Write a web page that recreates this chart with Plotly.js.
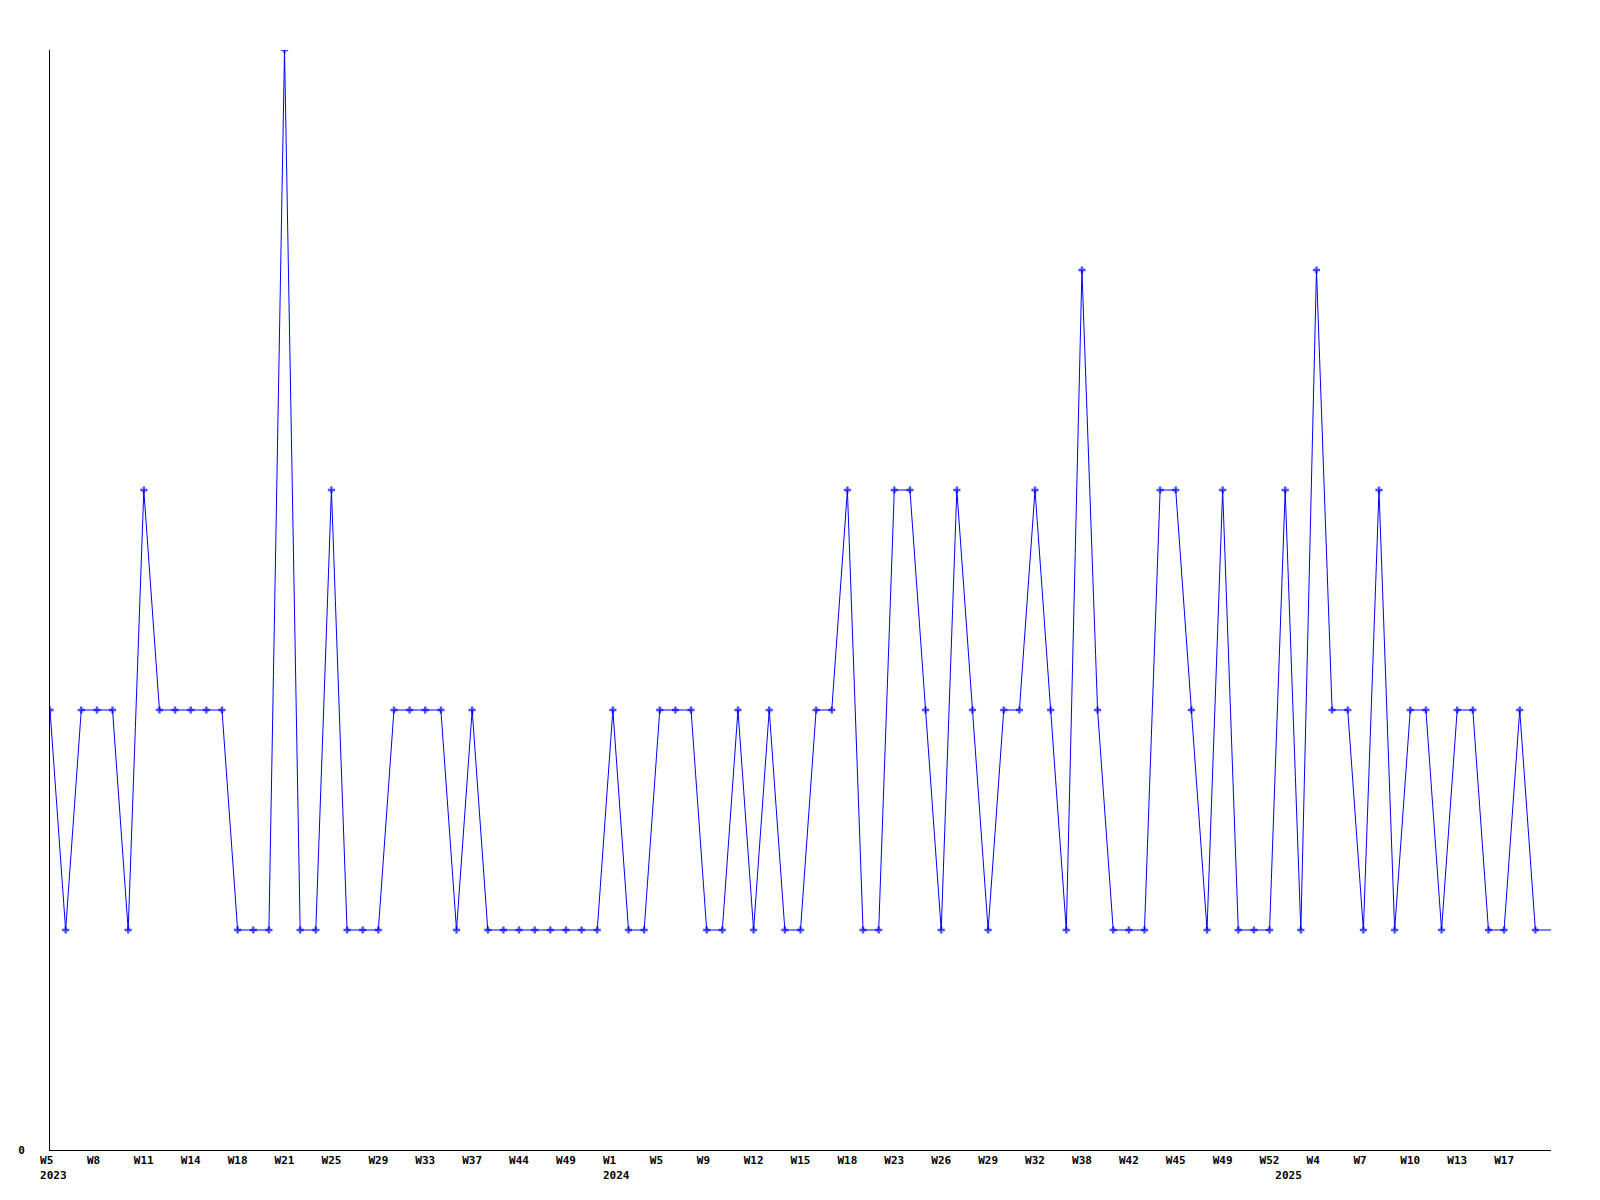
<!DOCTYPE html>
<html>
<head>
<meta charset="utf-8">
<script src="https://cdn.plot.ly/plotly-3.0.1.min.js"></script>
<style>html,body{margin:0;padding:0;background:#fff}#chart{width:1600px;height:1200px}</style>
</head>
<body>
<div id="chart"></div>
<script>
// Week categories (one per data point)
var weeks = [
  "2023-W05","2023-W06","2023-W07","2023-W08","2023-W09","2023-W10","2023-W11","2023-W12","2023-W13",
  "2023-W14","2023-W15","2023-W16","2023-W18","2023-W19","2023-W20","2023-W21","2023-W22","2023-W23",
  "2023-W25","2023-W26","2023-W27","2023-W29","2023-W30","2023-W31","2023-W33","2023-W34","2023-W35",
  "2023-W37","2023-W38","2023-W40","2023-W44","2023-W45","2023-W47","2023-W49","2023-W50","2023-W51",
  "2024-W01","2024-W02","2024-W03","2024-W05","2024-W06","2024-W07","2024-W09","2024-W10","2024-W11",
  "2024-W12","2024-W13","2024-W14","2024-W15","2024-W16","2024-W17","2024-W18","2024-W19","2024-W21",
  "2024-W23","2024-W24","2024-W25","2024-W26","2024-W27","2024-W28","2024-W29","2024-W30","2024-W31",
  "2024-W32","2024-W34","2024-W36","2024-W38","2024-W39","2024-W40","2024-W42","2024-W43","2024-W44",
  "2024-W45","2024-W46","2024-W47","2024-W49","2024-W50","2024-W51","2024-W52","2025-W01","2025-W02",
  "2025-W04","2025-W05","2025-W06","2025-W07","2025-W08","2025-W09","2025-W10","2025-W11","2025-W12",
  "2025-W13","2025-W14","2025-W15","2025-W17","2025-W18","2025-W19","2025-W20"
];
var counts = [
  2,1,2,2,2,1,3,2,2,
  2,2,2,1,1,1,5,1,1,
  3,1,1,1,2,2,2,2,1,
  2,1,1,1,1,1,1,1,1,
  2,1,1,2,2,2,1,1,2,
  1,2,1,1,2,2,3,1,1,
  3,3,2,1,3,2,1,2,2,
  3,2,1,4,2,1,1,1,3,
  3,2,1,3,1,1,1,3,1,
  4,2,2,1,3,1,2,2,1,
  2,2,1,1,2,1,1
];
// Labelled ticks (every third category)
var tickWeeks = [
  "2023-W05","2023-W08","2023-W11","2023-W14","2023-W18","2023-W21","2023-W25","2023-W29","2023-W33",
  "2023-W37","2023-W44","2023-W49","2024-W01","2024-W05","2024-W09","2024-W12","2024-W15","2024-W18",
  "2024-W23","2024-W26","2024-W29","2024-W32","2024-W38","2024-W42","2024-W45","2024-W49","2024-W52",
  "2025-W04","2025-W07","2025-W10","2025-W13","2025-W17"
];
var tickLabels = [
  "W5","W8","W11","W14","W18","W21","W25","W29","W33",
  "W37","W44","W49","W1","W5","W9","W12","W15","W18",
  "W23","W26","W29","W32","W38","W42","W45","W49","W52",
  "W4","W7","W10","W13","W17"
];
// Year labels, at the first week of each year shown
var yearWeeks = ["2023-W05", "2024-W01", "2025-W01"];
var yearLabels = ["2023", "2024", "2025"];

var NB = "\u00a0";
function padTo(s, n) { while (s.length < n) s += NB; return s; }

var tickVals = [];
var tickText = [];
tickWeeks.forEach(function (w, i) {
  var yi = yearWeeks.indexOf(w);
  var t = padTo(tickLabels[i], 3);
  if (yi >= 0) t += "<br>" + NB + yearLabels[yi];
  tickVals.push(w);
  tickText.push(t);
});
yearWeeks.forEach(function (w, yi) {
  if (tickWeeks.indexOf(w) < 0) {
    tickVals.push(w);
    tickText.push(NB + "<br>" + NB + yearLabels[yi]);
  }
});

var markerSizes = counts.map(function (v, i) { return i === counts.length - 1 ? 0 : 6; });

var trace = {
  type: "scatter",
  mode: "lines+markers",
  x: weeks,
  y: counts,
  line: { color: "#0000ff", width: 1 },
  marker: { color: "#0000ff", symbol: "cross", size: markerSizes, line: { width: 0 } },
  hoverinfo: "x+y"
};

var tf = { family: "DejaVu Sans Mono, monospace", size: 11, color: "#000000", weight: "bold" };

var layout = {
  width: 1600,
  height: 1200,
  paper_bgcolor: "#ffffff",
  plot_bgcolor: "#ffffff",
  margin: { l: 50, r: 49, t: 50, b: 50, pad: 0 },
  showlegend: false,
  font: tf,
  xaxis: {
    type: "category",
    categoryorder: "array",
    categoryarray: weeks,
    range: [0, weeks.length - 1],
    tickmode: "array",
    tickvals: tickVals,
    ticktext: tickText,
    ticks: "",
    showgrid: false,
    zeroline: false,
    showline: true,
    linecolor: "#000000",
    linewidth: 1,
    tickangle: 0,
    tickfont: tf
  },
  yaxis: {
    range: [0, 5],
    tickmode: "array",
    tickvals: [0],
    ticktext: ["0"],
    ticks: "",
    showgrid: false,
    zeroline: false,
    showline: true,
    linecolor: "#000000",
    linewidth: 1,
    ticklabelstandoff: 22,
    tickfont: tf
  }
};

Plotly.newPlot("chart", [trace], layout, { displayModeBar: false, staticPlot: true });
</script>
</body>
</html>
